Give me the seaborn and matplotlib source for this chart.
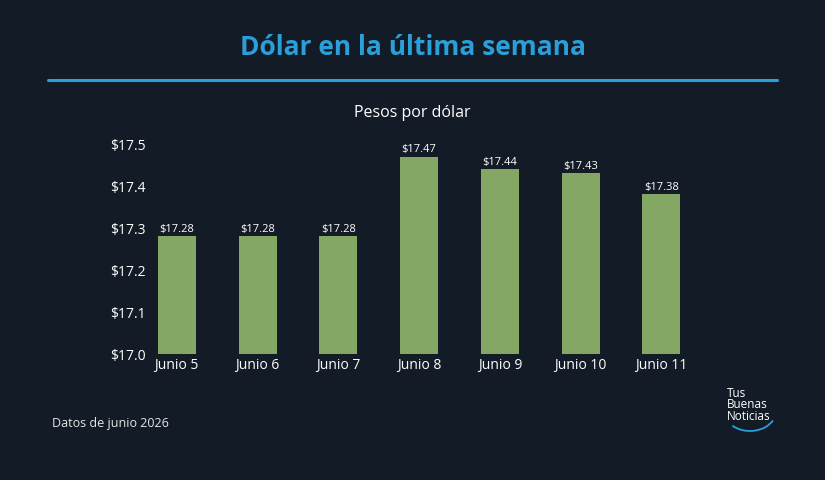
import pandas as pd
import matplotlib.pyplot as plt
import seaborn as sns
from matplotlib.patches import Arc

# Data
days = ['Junio 5', 'Junio 6', 'Junio 7', 'Junio 8', 'Junio 9', 'Junio 10', 'Junio 11']
rates = [17.28, 17.28, 17.28, 17.47, 17.44, 17.43, 17.38]

bg = '#131b27'
bar_color = '#84a763'
title_color = '#2b9fd9'

sns.set_theme(style='dark')
plt.rcParams['font.family'] = ['Open Sans', 'DejaVu Sans']

df = pd.DataFrame({'day': days, 'rate': rates})

fig = plt.figure(figsize=(8.25, 4.81), dpi=100, facecolor=bg)
ax = fig.add_axes([0.180, 0.262, 0.656, 0.4366])
ax.set_facecolor(bg)

sns.barplot(data=df, x='day', y='rate', color=bar_color, width=0.47,
            saturation=1, linewidth=0, ax=ax)

ax.set_ylim(17.0, 17.5)
ax.set_xlim(-0.35, 6.35)
ax.set_yticks([17.0, 17.1, 17.2, 17.3, 17.4, 17.5])
ax.set_yticklabels([f'${v:.1f}' for v in [17.0, 17.1, 17.2, 17.3, 17.4, 17.5]])
ax.tick_params(axis='both', colors='white', labelsize=10, length=0, pad=2)
ax.set_xlabel('')
ax.set_ylabel('')
ax.grid(False)
for s in ax.spines.values():
    s.set_visible(False)

# value labels
for i, v in enumerate(rates):
    ax.text(i, v + 0.006, f'${v:.2f}', ha='center', va='bottom',
            color='white', fontsize=8)

# title, rule, subtitle
fig.text(0.5, 0.902, 'Dólar en la última semana', ha='center', va='center',
         color=title_color, fontsize=19, fontweight='bold')
fig.add_artist(plt.Line2D([48 / 825, 777 / 825], [1 - 81 / 481, 1 - 81 / 481],
                          color=title_color, lw=2.2))
fig.text(0.5, 1 - 113 / 481, 'Pesos por dólar', ha='center', va='center',
         color='white', fontsize=11.5)

# footer
fig.text(52 / 825, 1 - 424 / 481, 'Datos de junio 2026', ha='left', va='center',
         color='#e6e6e6', fontsize=9)

# logo
fig.text(727 / 825, 1 - 405 / 481, 'Tus\nBuenas\nNoticias', ha='left', va='center',
         color='white', fontsize=8.5, linespacing=0.85)
fig.add_artist(Arc((750 / 825, 1 - 412 / 481), 52 / 825, 40 / 481,
                   theta1=235, theta2=325, color=title_color, lw=1.3,
                   transform=fig.transFigure))

fig.savefig('out.png', dpi=100, facecolor=bg)
